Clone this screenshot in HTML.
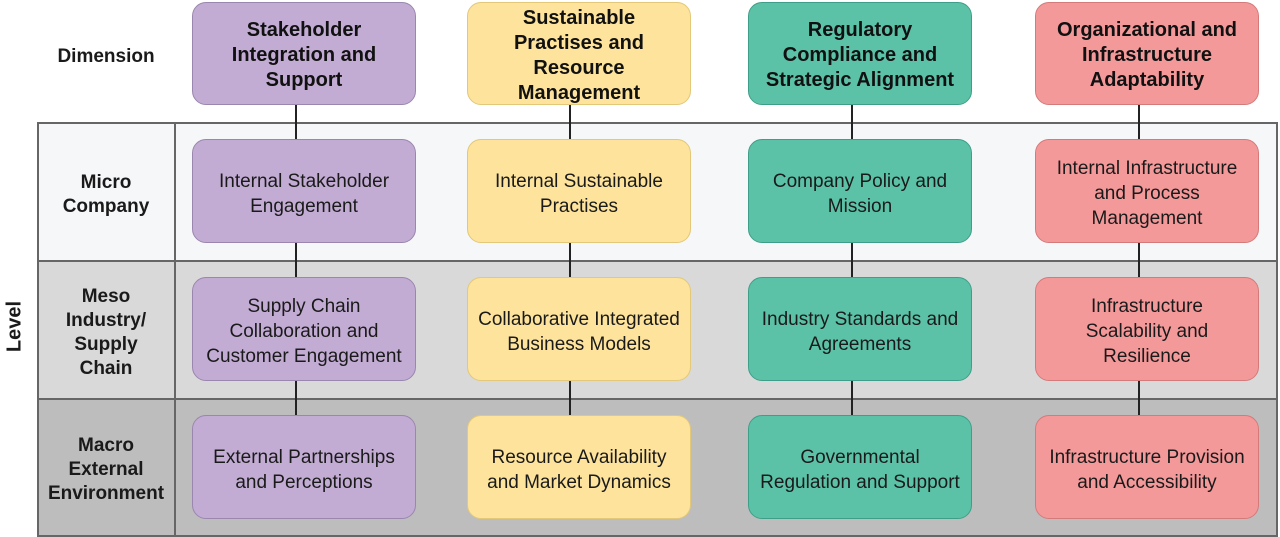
<!DOCTYPE html><html><head><style>
body{margin:0;width:1280px;height:537px;background:#fff;position:relative;overflow:hidden;font-family:"Liberation Sans",Arial,sans-serif;color:#1a1a1a}
.a{position:absolute;box-sizing:border-box}
.band{left:37px;width:1241px;border:2px solid #666}
.lab{position:absolute;box-sizing:border-box;padding-top:5px;left:37px;width:138px;text-align:center;font-weight:bold;font-size:19px;line-height:24px;display:flex;align-items:center;justify-content:center}
.b{position:absolute;box-sizing:border-box;border-radius:14px;border:1.5px solid;display:flex;align-items:center;justify-content:center;text-align:center;font-size:19px;line-height:25px;padding:5px 4px 0}
.h{font-weight:bold;font-size:20px;line-height:25px;color:#111;padding-top:4px}
.p{background:#c3acd4;border-color:#9a86ae}
.y{background:#fde39b;border-color:#e2c878}
.g{background:#5bc2a8;border-color:#3e9f88}
.r{background:#f4999a;border-color:#d57a7a}
.v{position:absolute;width:2px;background:#222;top:104px;height:312px}
</style></head><body>
<div class="a band" style="top:122px;height:140px;background:#f6f7f9"></div>
<div class="a band" style="top:260px;height:140px;background:#d9d9d9"></div>
<div class="a band" style="top:398px;height:139px;background:#bdbdbd"></div>
<div class="a" style="left:174px;top:122px;width:2px;height:415px;background:#666"></div>
<div class="lab" style="top:0;height:108px">Dimension</div>
<div class="lab" style="top:124px;height:136px">Micro<br>Company</div>
<div class="lab" style="top:262px;height:136px">Meso<br>Industry/<br>Supply<br>Chain</div>
<div class="lab" style="top:400px;height:135px">Macro<br>External<br>Environment</div>
<div class="a" style="left:-25px;top:315px;width:80px;text-align:center;font-weight:bold;font-size:20px;transform:rotate(-90deg)">Level</div>
<div class="v" style="left:295px"></div><div class="v" style="left:569px"></div><div class="v" style="left:851px"></div><div class="v" style="left:1138px"></div>
<div class="b h p" style="left:192px;top:2px;width:224px;height:103px">Stakeholder<br>Integration and<br>Support</div>
<div class="b h y" style="left:467px;top:2px;width:224px;height:103px">Sustainable<br>Practises and<br>Resource<br>Management</div>
<div class="b h g" style="left:748px;top:2px;width:224px;height:103px">Regulatory<br>Compliance and<br>Strategic Alignment</div>
<div class="b h r" style="left:1035px;top:2px;width:224px;height:103px">Organizational and<br>Infrastructure<br>Adaptability</div>
<div class="b p" style="left:192px;top:139px;width:224px;height:104px">Internal Stakeholder<br>Engagement</div>
<div class="b y" style="left:467px;top:139px;width:224px;height:104px">Internal Sustainable<br>Practises</div>
<div class="b g" style="left:748px;top:139px;width:224px;height:104px">Company Policy and<br>Mission</div>
<div class="b r" style="left:1035px;top:139px;width:224px;height:104px">Internal Infrastructure<br>and Process<br>Management</div>
<div class="b p" style="left:192px;top:277px;width:224px;height:104px">Supply Chain<br>Collaboration and<br>Customer Engagement</div>
<div class="b y" style="left:467px;top:277px;width:224px;height:104px">Collaborative Integrated<br>Business Models</div>
<div class="b g" style="left:748px;top:277px;width:224px;height:104px">Industry Standards and<br>Agreements</div>
<div class="b r" style="left:1035px;top:277px;width:224px;height:104px">Infrastructure<br>Scalability and<br>Resilience</div>
<div class="b p" style="left:192px;top:415px;width:224px;height:104px">External Partnerships<br>and Perceptions</div>
<div class="b y" style="left:467px;top:415px;width:224px;height:104px">Resource Availability<br>and Market Dynamics</div>
<div class="b g" style="left:748px;top:415px;width:224px;height:104px">Governmental<br>Regulation and Support</div>
<div class="b r" style="left:1035px;top:415px;width:224px;height:104px">Infrastructure Provision<br>and Accessibility</div>
</body></html>
